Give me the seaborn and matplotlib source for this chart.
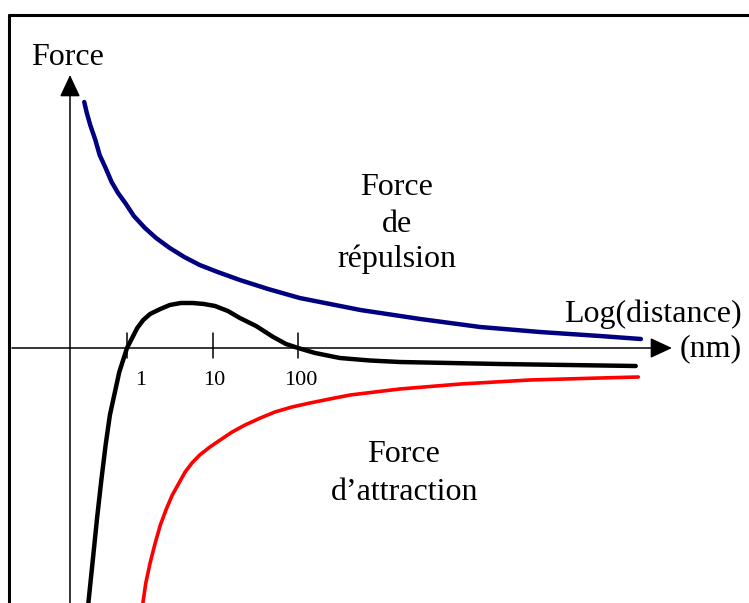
import numpy as np
import pandas as pd
import seaborn as sns
import matplotlib
matplotlib.use("Agg")
import matplotlib.pyplot as plt

# curves: x = log10(distance / nm), y = force (arbitrary units)
rep_x = [-0.50, -0.47, -0.43, -0.37, -0.32, -0.25, -0.18, -0.105, -0.02, 0.08, 0.21, 0.34,
         0.50, 0.67, 0.85, 1.06, 1.32, 1.65, 2.02, 2.73, 3.43, 4.13, 4.83, 5.53, 6.01]
rep_y = [2.46, 2.35, 2.23, 2.08, 1.93, 1.80, 1.66, 1.55, 1.45, 1.32, 1.20, 1.10,
         1.00, 0.91, 0.83, 0.76, 0.68, 0.59, 0.50, 0.38, 0.29, 0.21, 0.16, 0.12, 0.09]

tot_x = [-0.47, -0.40, -0.35, -0.30, -0.25, -0.20, -0.09, 0.0, 0.12, 0.19, 0.27, 0.39, 0.50, 0.63, 0.77,
         0.90, 1.03, 1.18, 1.32, 1.51, 1.71, 1.86, 2.0, 2.20, 2.49, 2.84, 3.19, 4.36, 5.95]
tot_y = [-2.70, -2.12, -1.70, -1.32, -0.97, -0.67, -0.24, 0.0, 0.20, 0.28, 0.34, 0.39, 0.43, 0.45, 0.45,
         0.44, 0.42, 0.37, 0.30, 0.22, 0.11, 0.04, 0.0, -0.05, -0.10, -0.125, -0.14, -0.16, -0.18]

att_x = [0.16, 0.22, 0.27, 0.33, 0.39, 0.46, 0.53, 0.68, 0.76, 0.85, 0.97, 1.09, 1.23, 1.38,
         1.56, 1.73, 1.93, 2.14, 2.37, 2.61, 3.19, 3.90, 4.71, 5.53, 5.98]
att_y = [-2.70, -2.35, -2.15, -1.95, -1.77, -1.61, -1.47, -1.24, -1.15, -1.07, -0.99, -0.92, -0.84, -0.77,
         -0.70, -0.64, -0.59, -0.55, -0.51, -0.47, -0.41, -0.36, -0.32, -0.30, -0.29]

tick_pos = [0, 1, 2]
tick_labels = ["1", "10", "100"]

W, H = 749, 603
sns.set_style("white")
plt.rcParams["font.family"] = ["Liberation Serif", "DejaVu Serif"]
plt.rcParams["text.color"] = "black"

fig = plt.figure(figsize=(W / 100, H / 100), dpi=100)
ax = fig.add_axes([0, 0, 1, 1])
ax.set_xlim(-127 / 85.5, (W - 127) / 85.5)
ax.set_ylim(-(H - 348) / 100, 348 / 100)
ax.axis("off")

def fx(px):
    return px / W

def fy(py):
    return 1 - py / H

# outer frame (top and left only)
ax.plot([fx(9), fx(W)], [fy(15), fy(15)], transform=ax.transAxes, color="black", lw=2.2, clip_on=False)
ax.plot([fx(9), fx(9)], [fy(15), fy(H)], transform=ax.transAxes, color="black", lw=2.2, clip_on=False)

# axes with arrows
arrow = dict(arrowstyle="-|>,head_length=0.75,head_width=0.35", color="black", lw=1.1,
             mutation_scale=18, shrinkA=0, shrinkB=0)
x0 = (70 - 127) / 85.5
ax.annotate("", xy=(x0, (348 - 75) / 100), xytext=(x0, -3.0), arrowprops=arrow)
ax.annotate("", xy=((672 - 127) / 85.5, 0), xytext=((12 - 127) / 85.5, 0), arrowprops=arrow)

for p in tick_pos:
    ax.plot([p, p], [0.15, -0.10], color="black", lw=1.1)
label_x = [0.16, 1.02, 2.03]
for lx, lab in zip(label_x, tick_labels):
    ax.text(lx, -0.37, lab, ha="center", va="baseline", fontsize=16)

sns.lineplot(x=rep_x, y=rep_y, sort=False, estimator=None, color="#000080", lw=3.2, ax=ax)
sns.lineplot(x=tot_x, y=tot_y, sort=False, estimator=None, color="black", lw=3.2, ax=ax)
sns.lineplot(x=att_x, y=att_y, sort=False, estimator=None, color="#ff0000", lw=2.6, ax=ax)
for ln in ax.get_lines():
    ln.set_solid_joinstyle("round")

fs = 23
ax.text(fx(68), fy(65), "Force", transform=ax.transAxes, ha="center", va="baseline", fontsize=fs)
ax.text(fx(397), fy(195), "Force", transform=ax.transAxes, ha="center", va="baseline", fontsize=fs)
ax.text(fx(397), fy(232), "de", transform=ax.transAxes, ha="center", va="baseline", fontsize=fs)
ax.text(fx(397), fy(267), "répulsion", transform=ax.transAxes, ha="center", va="baseline", fontsize=fs)
ax.text(fx(404), fy(462), "Force", transform=ax.transAxes, ha="center", va="baseline", fontsize=fs)
ax.text(fx(405), fy(500), "d\u2019attraction", transform=ax.transAxes, ha="center", va="baseline", fontsize=fs)
ax.text(fx(742), fy(322), "Log(distance)", transform=ax.transAxes, ha="right", va="baseline", fontsize=fs)
ax.text(fx(742), fy(356), "(nm)", transform=ax.transAxes, ha="right", va="baseline", fontsize=fs)

fig.savefig("out.png", dpi=100, facecolor="white")
